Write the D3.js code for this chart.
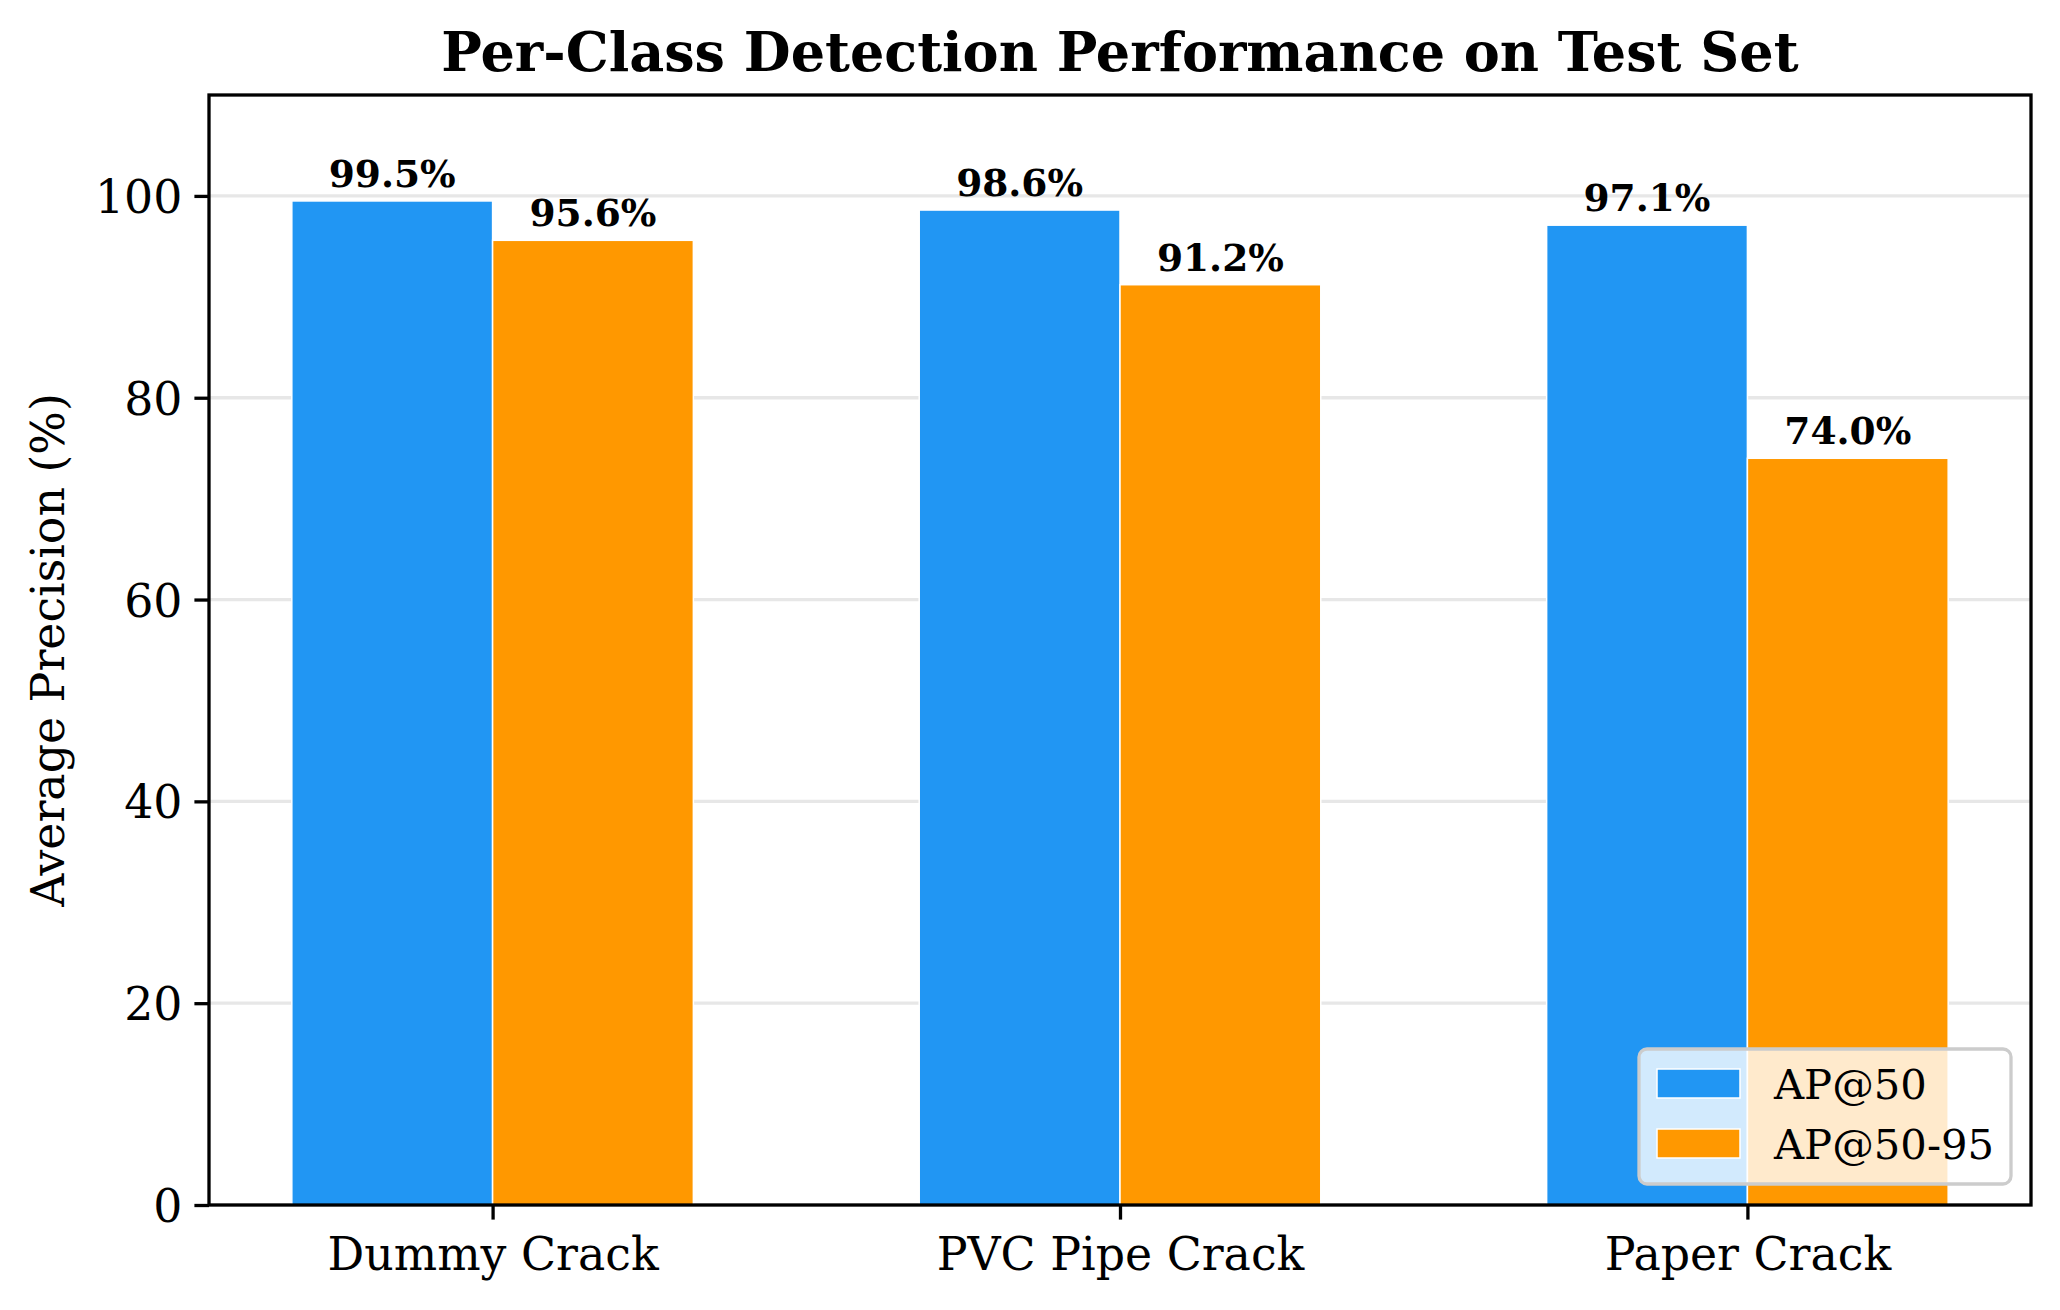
<!DOCTYPE html>
<html>

<head>
  <meta charset="UTF-8">
  <script src="https://d3js.org/d3.v7.js"></script>
  <style>
    body { margin: 0; background: #fff; }
    text { font-family: "DejaVu Serif", serif; }
  </style>
</head>

<body>
  <div id="chart"></div>

  <script>
    // data

    const classes = ["Dummy Crack", "PVC Pipe Crack", "Paper Crack"];
    const ap50 = [99.5, 98.6, 97.1];
    const ap5095 = [95.6, 91.2, 74.0];
    const seriesNames = ["AP@50", "AP@50-95"];
    const yTicks = [0, 20, 40, 60, 80, 100];

    // set up

    const W = 2060, H = 1310;
    const plot = { left: 209, right: 2031, top: 95, bottom: 1205 };
    const barW = 0.32;
    const colors = ["#2196F3", "#FF9800"];

    const svg = d3.select('#chart')
      .append('svg')
        .attr('width', W)
        .attr('height', H);

    // scales

    const pad = 0.05 * (classes.length - 1 + 2 * barW);
    const x = d3.scaleLinear()
        .domain([-barW - pad, classes.length - 1 + barW + pad])
        .range([plot.left, plot.right]);

    const y = d3.scaleLinear()
        .domain([0, 110])
        .range([plot.bottom, plot.top]);

    // grid

    svg.append('g')
      .selectAll('line')
      .data(yTicks)
      .join('line')
        .attr('x1', plot.left)
        .attr('x2', plot.right)
        .attr('y1', d => y(d))
        .attr('y2', d => y(d))
        .attr('stroke', '#b0b0b0')
        .attr('stroke-opacity', 0.3)
        .attr('stroke-width', 3.3);

    // bars

    const series = [ap50, ap5095];

    series.forEach((vals, s) => {
      const g = svg.append('g');
      g.selectAll('rect')
        .data(vals)
        .join('rect')
          .attr('x', (d, i) => x(i - barW + s * barW))
          .attr('y', d => y(d))
          .attr('width', x(barW) - x(0))
          .attr('height', d => y(0) - y(d))
          .attr('fill', colors[s])
          .attr('stroke', '#fff')
          .attr('stroke-width', 1.5);

      g.selectAll('text')
        .data(vals)
        .join('text')
          .attr('x', (d, i) => x(i - barW / 2 + s * barW))
          .attr('y', d => y(d) - 14)
          .attr('text-anchor', 'middle')
          .attr('font-size', 37.5)
          .attr('font-weight', 'bold')
          .text(d => d.toFixed(1) + '%');
    });

    // axes

    const yAxis = d3.axisLeft(y)
        .tickValues(yTicks)
        .tickSize(14.6)
        .tickPadding(12);

    svg.append('g')
        .attr('transform', `translate(${plot.left},0)`)
        .call(yAxis)
        .call(g => g.select('.domain').remove())
        .call(g => g.selectAll('line').attr('stroke-width', 3.3))
        .call(g => g.selectAll('text')
          .attr('font-family', '"DejaVu Serif", serif')
          .attr('font-size', 45.8)
          .attr('dy', '0.36em'));

    const xAxis = d3.axisBottom(x)
        .tickValues(d3.range(classes.length))
        .tickFormat(i => classes[i])
        .tickSize(14.6)
        .tickPadding(16);

    svg.append('g')
        .attr('transform', `translate(0,${plot.bottom})`)
        .call(xAxis)
        .call(g => g.select('.domain').remove())
        .call(g => g.selectAll('line').attr('stroke-width', 3.3))
        .call(g => g.selectAll('text')
          .attr('font-family', '"DejaVu Serif", serif')
          .attr('font-size', 45.8)
          .attr('dy', '0.76em'));

    // frame
    svg.append('rect')
        .attr('x', plot.left)
        .attr('y', plot.top)
        .attr('width', plot.right - plot.left)
        .attr('height', plot.bottom - plot.top)
        .attr('fill', 'none')
        .attr('stroke', '#000')
        .attr('stroke-width', 3.3);

    // labels

    svg.append('text')
        .attr('x', (plot.left + plot.right) / 2)
        .attr('y', 71)
        .attr('text-anchor', 'middle')
        .attr('font-size', 54)
        .attr('font-weight', 'bold')
        .text('Per-Class Detection Performance on Test Set');

    svg.append('text')
        .attr('transform', `translate(64,${(plot.top + plot.bottom) / 2}) rotate(-90)`)
        .attr('text-anchor', 'middle')
        .attr('font-size', 45.8)
        .text('Average Precision (%)');

    // legend

    const lg = svg.append('g');
    lg.append('rect')
        .attr('x', 1639)
        .attr('y', 1049)
        .attr('width', 372)
        .attr('height', 135)
        .attr('rx', 8)
        .attr('fill', '#fff')
        .attr('fill-opacity', 0.8)
        .attr('stroke', '#cccccc')
        .attr('stroke-width', 3.3);

    seriesNames.forEach((name, s) => {
      lg.append('rect')
          .attr('x', 1657)
          .attr('y', 1069 + s * 60)
          .attr('width', 83)
          .attr('height', 29)
          .attr('fill', colors[s])
          .attr('stroke', '#fff')
          .attr('stroke-width', 1.5);
      lg.append('text')
          .attr('x', 1774)
          .attr('y', 1099 + s * 60)
          .attr('font-size', 41.7)
          .text(name);
    });
  </script>
</body>

</html>
